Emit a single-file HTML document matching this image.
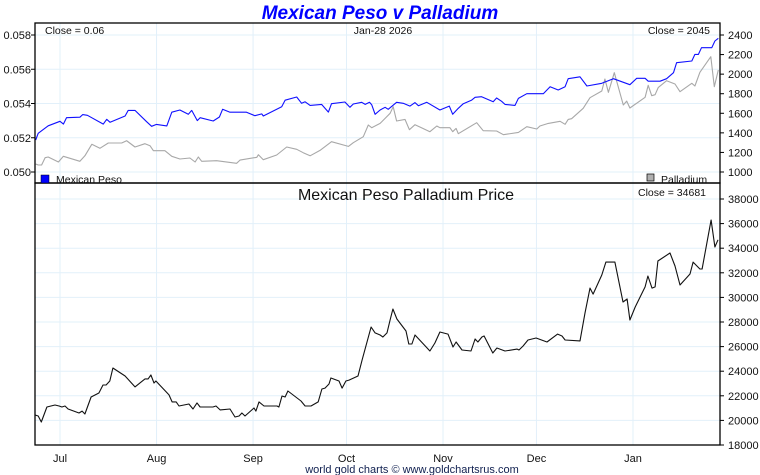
<!DOCTYPE html>
<html><head><meta charset="utf-8"><style>
html,body{margin:0;padding:0;background:#fff;}
svg{display:block;font-family:"Liberation Sans",sans-serif;}
</style></head><body>
<svg id="c" width="760" height="475"></svg>
<script>
// ---- data ----
const monthLabels = ["Jul","Aug","Sep","Oct","Nov","Dec","Jan"];
const monthDays = [0,31,62,92,123,153,184];
const pesoDays = [-7.8,-7,-3.8,0,1.1,2.1,6.4,7.3,8.8,13.9,15,16.1,20.9,21.9,24.1,27.8,29.4,31,34.3,35.9,38.5,41.2,42.3,44.1,45,49.2,51.2,52.2,54.6,59.9,62.6,64.8,65.3,71.2,72.3,76,77.6,78.7,80.3,84,86.2,87.2,91.5,93.1,94.2,96.9,98,99.4,100.1,101.2,102.8,104.4,105.4,108.1,110.2,112.4,114,115.1,117.8,122,125,126.1,127.9,129.5,132.2,133.3,135.4,139.1,140.2,141.8,142.9,146.1,147.2,149.9,155.2,157.4,160,162.2,163.2,167,169.2,174,177.7,183,185.2,187.9,188.9,192.7,194.8,197,198,202.9,203.9,205,206,209.3,210.3,211.4];
const pesoValues = [0.05187,0.05226,0.0527,0.05296,0.0528,0.05317,0.0532,0.05335,0.05331,0.0528,0.05308,0.0529,0.05327,0.0536,0.0536,0.05294,0.05267,0.05278,0.05269,0.05349,0.05362,0.05337,0.0536,0.053,0.05317,0.05298,0.05321,0.05366,0.05349,0.05349,0.05329,0.05339,0.05327,0.05381,0.05419,0.05438,0.05401,0.0541,0.05389,0.05395,0.0535,0.05399,0.05409,0.05378,0.05397,0.05407,0.05395,0.05407,0.05393,0.05337,0.05362,0.05378,0.05366,0.05407,0.05401,0.05385,0.05405,0.05387,0.05407,0.05362,0.05385,0.05337,0.05372,0.05399,0.0542,0.05436,0.0544,0.0541,0.05432,0.05413,0.05395,0.05389,0.0543,0.05457,0.05457,0.05498,0.05479,0.05498,0.05545,0.05556,0.05502,0.05518,0.05545,0.0551,0.05547,0.05547,0.0553,0.0553,0.05545,0.0558,0.05638,0.05648,0.05687,0.05687,0.05726,0.05726,0.05765,0.05781];
const palDays = [-7.8,-7,-5.9,-4.8,-3.8,-0.5,1.1,6.4,8,10.2,12.8,15.5,19.8,21.4,24.1,27.3,28.9,30,33.7,35.9,38.5,41.7,43.4,44.4,45.5,50.3,56.7,57.8,63.2,63.7,65.3,69.6,72.8,76,78.1,80.3,83.5,87.2,92.6,94.2,97.4,99,100.1,102.8,104.9,106,107,108.1,110.8,112.2,114,118.8,121,122,125.2,126.1,127.2,127.9,133.8,135.9,140.2,142.4,147.2,149.9,153.1,154.1,156.8,160.6,162.2,163.2,164.3,168,170.2,174,175,176.1,178,180.9,182,183,187.9,188.9,190,191.1,192.1,194.8,197.5,199.1,202.9,203.9,205.5,209,210.1,211.4];
const palValues = [1082,1072,1072,1146,1153,1102,1160,1109,1166,1283,1242,1296,1296,1320,1255,1289,1269,1218,1218,1160,1133,1143,1102,1153,1109,1115,1089,1122,1150,1177,1126,1174,1255,1232,1197,1166,1221,1310,1262,1299,1361,1480,1453,1497,1565,1600,1667,1521,1538,1432,1483,1412,1470,1453,1453,1412,1446,1391,1504,1422,1419,1381,1405,1463,1439,1470,1497,1518,1487,1538,1545,1651,1759,1828,1950,1814,2015,1685,1725,1654,1763,1886,1780,1790,1862,1933,1899,1821,1906,1879,2019,2178,1872,2042];
const ratioDays = [-8,-7,-6,-4.2,-1.6,-0.3,0.6,1.6,2.6,6.1,7.1,8,10,12.5,13.8,14.8,16,17,20.9,24.1,27.3,28.3,29.2,30.2,30.8,35,36,37.3,38.2,41.4,42.7,44,45,49.1,50.1,51.4,54.6,56.2,57.5,58.4,59.4,62.3,62.9,63.9,65.5,69.7,70.3,71.3,72.3,73.2,77.4,78.7,80.6,82.9,84.1,85.1,86.4,87,89.6,90.6,91.8,92.8,95.7,97,99.9,101.2,102.8,103.7,105,106,106.9,108.2,111.1,112,113,114,118.8,120.4,122,124.6,126.2,127.2,129.1,132,133.3,134.2,135.5,136.2,139,140.3,142.9,146.8,147.4,148.7,150.3,152.9,156.4,159.8,161.2,162.2,167,168.6,170.2,171.2,174,175.3,178.2,180.8,182.1,183,184.7,187.9,188.8,190.1,191.1,192,195.9,197.5,199.1,202.3,203.3,205.5,206.2,209.1,210.3,211.3];
const ratioValues = [20440,20360,19870,21090,21250,21170,21090,21170,20930,20600,20760,20520,21900,22230,22880,22880,23200,24260,23610,22720,23370,23370,23690,23040,23200,22070,21500,21500,21170,21330,20930,21420,21090,21090,21170,20850,20930,20280,20360,20600,20360,21010,20760,21500,21170,21170,21090,21980,21900,22390,21580,21170,21170,21500,22550,22630,22960,23450,23200,22630,23200,23280,23610,24910,27590,27110,26940,26780,27110,28160,29060,28240,27270,26210,26210,26940,25640,26290,27190,27020,25970,26370,25720,25640,26620,26370,26780,26860,25480,25890,25640,25800,25720,26050,26540,26700,26370,27020,26860,26540,26460,28730,30760,30270,31820,32870,32870,29630,29870,28160,29220,30850,31740,30760,30850,32960,33610,32550,31010,31900,32870,32310,32310,36290,34100,34681];
const pesoTicks = [0.050,0.052,0.054,0.056,0.058];
const palTicks = [1000,1200,1400,1600,1800,2000,2200,2400];
const ratioTicks = [18000,20000,22000,24000,26000,28000,30000,32000,34000,36000,38000];

// ---- axes ----
const L=35,R=720,T1=23,B1=183,T2=183,B2=445;
const xS = d => 60 + d*3.114;
const yPeso = v => 35 + (0.058 - v)/0.008*137;
const yPal = v => 35 + (2400 - v)/1400*137;
const yRatio = v => 199 + (38000 - v)/20000*246;

const svg=document.getElementById('c');
const NS='http://www.w3.org/2000/svg';
function mk(tag,attrs,text){const e=document.createElementNS(NS,tag);for(const k in attrs)e.setAttribute(k,attrs[k]);if(text!==undefined)e.textContent=text;svg.appendChild(e);return e;}

// grids
monthDays.forEach((d,i)=>{
  const g=mk('line',{x1:xS(d),x2:xS(d),y1:T1,y2:B2,stroke:'#e2f0fa','stroke-width':1});
  
  
  const t=mk('text',{x:xS(d),y:462,'font-size':11,'text-anchor':'middle',fill:'#111'},monthLabels[i]);
  
  
});
pesoTicks.forEach(v=>{
  const y=yPeso(v);
  const g=mk('line',{x1:L,x2:R,y1:y,y2:y,stroke:'#e2f0fa'});
  
  
  mk('line',{x1:L-4,x2:L,y1:y,y2:y,stroke:'#000'});
  const t=mk('text',{x:L-4,y:y+4,'font-size':11,'text-anchor':'end',fill:'#111'},v.toFixed(3));
  
  
});
palTicks.forEach(v=>{
  const y=yPal(v);
  mk('line',{x1:R,x2:R+4,y1:y,y2:y,stroke:'#000'});
  const t=mk('text',{x:R+8,y:y+4,'font-size':11,fill:'#111'},v);
  
  
});
ratioTicks.forEach(v=>{
  const y=yRatio(v);
  const g=mk('line',{x1:L,x2:R,y1:y,y2:y,stroke:'#e2f0fa'});
  
  
  mk('line',{x1:R,x2:R+4,y1:y,y2:y,stroke:'#000'});
  const t=mk('text',{x:R+8,y:y+4,'font-size':11,fill:'#111'},v);
  
  
});

function line(days,vals,yf,color,name){
  const pts=days.map((d,i)=>xS(d).toFixed(1)+','+yf(vals[i]).toFixed(1)).join(' ');
  const p=mk('polyline',{points:pts,fill:'none',stroke:color,'stroke-width':1.1,'stroke-linejoin':'round'});
  
  
}
line(palDays,palValues,yPal,'#a8a8a8','palladium-line');
line(pesoDays,pesoValues,yPeso,'#1010ff','peso-line');
line(ratioDays,ratioValues,yRatio,'#111','peso-palladium-price-line');

// frames
const f1=mk('rect',{x:L,y:T1,width:R-L,height:B1-T1,fill:'none',stroke:'#000','stroke-width':1.3});


const f2=mk('rect',{x:L,y:T2,width:R-L,height:B2-T2,fill:'none',stroke:'#000','stroke-width':1.3});



function txt(x,y,s,attrs,name){const t=mk('text',Object.assign({x:x,y:y,fill:'#111'},attrs),s);return t;}
txt(380,19,'Mexican Peso v Palladium',{'font-size':19,'font-weight':'bold','font-style':'italic','text-anchor':'middle',fill:'#0000ff'},'chart-title');
txt(45,34,'Close = 0.06',{'font-size':10.5},'peso-close');
txt(383,34,'Jan-28  2026',{'font-size':10.5,'text-anchor':'middle'},'date-label');
txt(710,34,'Close = 2045',{'font-size':10.5,'text-anchor':'end'},'palladium-close');
const s1=mk('rect',{x:41,y:175,width:8,height:8,fill:'#0000ff',stroke:'#000','stroke-width':0.5});


txt(56,183,'Mexican Peso',{'font-size':10.5},'legend-peso');
const s2=mk('rect',{x:647,y:174,width:7,height:7,fill:'#b0b0b0',stroke:'#000','stroke-width':0.7});


txt(661,183,'Palladium',{'font-size':10.5},'legend-palladium');
txt(406,200,'Mexican Peso Palladium Price',{'font-size':16,'text-anchor':'middle'},'bottom-panel-title');
txt(706,196,'Close = 34681',{'font-size':10.5,'text-anchor':'end'},'price-close');
txt(412,473,'world gold charts \u00a9 www.goldchartsrus.com',{'font-size':11,'text-anchor':'middle',fill:'#102050'},'footer-credit');
</script>
</body></html>
